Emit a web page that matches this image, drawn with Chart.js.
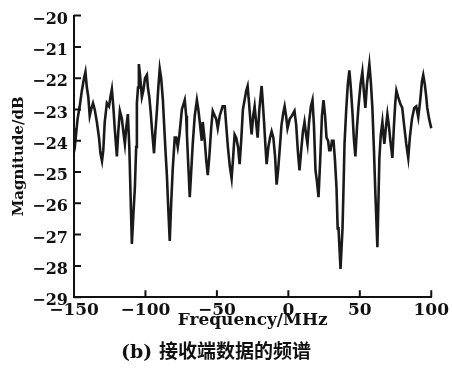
<!DOCTYPE html>
<html>
<head>
<meta charset="utf-8">
<script src="https://cdn.jsdelivr.net/npm/chart.js@4"></script>
<style>
  html, body { margin: 0; padding: 0; background: #fff; }
  #wrap { width: 452px; height: 368px; }
</style>
</head>
<body>
<div id="wrap"><canvas id="myChart" width="452" height="368"></canvas></div>
<script>
const ctx = document.getElementById('myChart')

const freqs = [
  -150, -149, -147.5, -146, -144.5, -143, -142, -141, -140, -139, -138, -136.7, -135.5, -134, -132.5,
  -131.5, -130.4, -129.5, -128.5, -127, -125.5, -124.5, -123.5, -122.5, -121.5, -120, -119, -117.9,
  -116.5, -115.5, -114.4, -113.5, -112.3, -111.3, -110.5, -109.5, -108.5, -107.4, -106.5, -106, -105.2,
  -104.6, -103.8, -102.5, -101.5, -100.3, -99, -98.3, -97.3, -96.3, -95.5, -94, -93.2, -92, -91, -90,
  -89, -87.8, -86.8, -86, -85, -84, -83, -82, -80.9, -79.5, -78.5, -77.4, -76.2, -74.5, -72.5, -71.5,
  -71, -70, -69, -68, -66.9, -65.5, -64, -63, -62, -60.6, -59.9, -58.5, -57.5, -56.4, -55.3, -54, -52.9,
  -51.5, -50.5, -49.4, -48, -46, -44.5, -43.5, -42.3, -41, -39.7, -38.6, -37.6, -36.5, -35.2, -34.1, -33,
  -31.8, -30.6, -29.5, -28.5, -27.5, -26.5, -25.7, -24.6, -23.6, -22.6, -21.5, -20.3, -18.7, -18, -17,
  -16, -15.2, -14, -12.8, -11.7, -10.5, -9.3, -8.2, -7.1, -6.1, -4.8, -3.5, -2.6, -1.6, -0.6, 1, 2.5,
  4.3, 5.5, 6.6, 7.8, 9, 10.2, 11.3, 12.4, 13.4, 14.5, 15.8, 16.9, 17.9, 19, 20, 21.1, 22.3, 23.5, 24.6,
  25.7, 26.7, 27.8, 28.6, 29.5, 30.5, 31.6, 32.6, 33.7, 34.5, 35.1, 36.5, 37.9, 38.6, 39.3, 40.5, 41.6,
  42.7, 43.7, 44.8, 45.8, 46.9, 48, 49, 50.5, 51.8, 52.8, 53.9, 55, 56.7, 57.7, 58.8, 59.9, 60.9, 62.3,
  63, 63.7, 64.7, 65.8, 66.5, 67.2, 68.2, 69.3, 70.3, 71.4, 72.8, 73.8, 74.8, 75.6, 76.8, 78.2, 79.7,
  81, 82.5, 83.9, 85, 86.5, 88.1, 89.5, 90.9, 92.3, 93.5, 94.4, 95.5, 96.5, 97.2, 98.5, 100, 101.4, 102
]
const mags = [
  -23.6, -24.0, -23.3, -22.9, -22.4, -22.0, -21.8, -22.3, -22.6, -23.2, -23.0, -22.8, -23.0, -23.4, -23.9,
  -24.4, -24.65, -24.3, -23.4, -22.8, -22.9, -22.6, -22.35, -22.9, -23.6, -24.5, -23.7, -23.05,
  -23.3, -23.7, -24.1, -23.6, -23.15, -24.2, -25.6, -27.3, -26.4, -25.5, -24.2, -22.8, -22.3,
  -21.55, -21.9, -22.6, -22.4, -22.0, -21.9, -22.3, -22.6, -23.1, -23.6, -24.4, -23.8, -23.05, -22.3, -21.7,
  -22.0, -22.7, -23.6, -24.3, -25.1, -26.2, -27.2, -26.0, -24.9, -23.9, -23.9, -24.2, -23.8, -23.0, -22.7, -23.2,
  -23.8, -24.8, -25.8, -25.0, -24.1, -23.2, -22.7, -23.0, -23.4, -24.0, -23.4, -24.0, -24.6, -25.1, -24.5, -23.6, -23.05,
  -23.2, -23.3, -23.6, -23.2, -22.9, -22.9, -23.5, -24.2, -24.8, -25.2, -24.5, -23.8, -23.9, -24.2, -24.75, -24.0,
  -23.0, -22.7, -22.4, -22.25, -22.8, -23.4, -23.8, -23.2, -22.9, -23.4, -23.9, -23.0, -22.25, -22.7, -23.4,
  -24.2, -24.75, -24.2, -23.9, -23.7, -23.9, -24.5, -25.4, -24.9, -24.3, -23.5, -23.1, -22.9, -23.2, -23.6, -23.3, -23.2,
  -23.05, -23.5, -24.3, -24.95, -24.3, -23.7, -23.4, -23.8, -24.1, -23.4, -22.9, -22.7, -23.5, -24.95, -25.3, -25.8, -24.6, -23.2, -22.7,
  -23.2, -23.9, -24.0, -24.3, -24.3, -24.0, -24.0, -24.6, -25.5, -26.8, -26.8, -28.1, -26.8, -25.5, -24.1, -23.0, -22.2,
  -21.75, -22.3, -23.05, -23.9, -24.5, -23.6, -22.95, -22.2, -21.8, -22.4, -22.95, -22.2, -21.55, -22.1, -22.95, -24.3, -25.7, -27.4,
  -26.0, -24.55, -23.8, -23.4, -23.8, -24.1, -23.6, -23.15, -23.5, -24.0, -24.55, -23.6, -22.8, -22.4, -22.6, -22.8, -22.95,
  -23.5, -24.1, -24.55, -23.9, -23.3, -22.95, -22.9, -23.25, -22.7, -22.1, -21.9, -22.2, -22.6, -22.95, -23.3, -23.6, -24.0, -23.8
]

const yTicks = [-29, -28, -27, -26, -25, -24, -23, -22, -21, -20]
const xTicks = [-150, -100, -50, 0, 50, 100]

const serif = "'DejaVu Serif', 'Liberation Serif', serif"
const minus = v => (v < 0 ? '\u2212' + Math.abs(v) : '' + v)

// short ticks pointing into the plot
const innerTicks = {
  id: 'innerTicks',
  afterDraw(chart) {
    const c = chart.ctx
    const xs = chart.scales.x
    const ys = chart.scales.y
    const area = chart.chartArea
    c.save()
    c.strokeStyle = '#111'
    c.lineWidth = 2
    c.beginPath()
    yTicks.forEach(v => {
      const p = ys.getPixelForValue(v)
      c.moveTo(area.left, p)
      c.lineTo(area.left + 7, p)
    })
    xTicks.forEach(v => {
      const p = xs.getPixelForValue(v)
      c.moveTo(p, area.bottom)
      c.lineTo(p, area.bottom - 7)
    })
    c.stroke()
    c.restore()
  }
}

const myChart = new Chart(ctx, {
    type: 'line',
    data: {
        datasets: [{
            data: freqs.map((f, i) => ({ x: f, y: mags[i] })),
            borderColor: '#1a1a1a',
            borderWidth: 2.6,
            pointRadius: 0,
            tension: 0,
            fill: false,
            clip: { left: 0, top: 5, right: 8, bottom: 0 }
        }]
    },
    options: {
        responsive: false,
        animation: false,
        layout: { padding: { top: 15, right: 20, left: 0, bottom: 0 } },
        plugins: {
            legend: { display: false },
            tooltip: { enabled: false },
            title: {
                display: true,
                position: 'bottom',
                text: '(b) 接收端数据的频谱',
                color: '#111',
                font: { family: serif + ", 'Noto Sans CJK SC'", size: 19, weight: 'bold', lineHeight: 1.2 },
                padding: { top: 0, bottom: 4 }
            }
        },
        scales: {
            x: {
                type: 'linear',
                min: -150,
                max: 100,
                afterBuildTicks: s => { s.ticks = xTicks.map(v => ({ value: v })) },
                afterFit: s => { s.height = 44 },
                grid: { display: false, drawTicks: false },
                border: { display: true, color: '#111', width: 2 },
                ticks: {
                    color: '#111',
                    padding: 3,
                    maxRotation: 0,
                    font: { family: serif, size: 17, weight: 'bold' },
                    callback: minus
                },
                title: {
                    display: true,
                    text: 'Frequency/MHz',
                    color: '#111',
                    font: { family: serif, size: 17, weight: 'bold', lineHeight: 1.2 },
                    padding: { top: 0, bottom: 10 }
                }
            },
            y: {
                min: -29,
                max: -20,
                afterBuildTicks: s => { s.ticks = yTicks.map(v => ({ value: v })) },
                afterFit: s => { s.width = 74 },
                grid: { display: false, drawTicks: false },
                border: { display: true, color: '#111', width: 2 },
                ticks: {
                    color: '#111',
                    padding: 6,
                    labelOffset: 4,
                    font: { family: serif, size: 16, weight: 'bold' },
                    callback: minus
                },
                title: {
                    display: true,
                    text: 'Magnitude/dB',
                    color: '#111',
                    font: { family: serif, size: 15, weight: 'bold', lineHeight: 1.2 },
                    padding: { top: 10, bottom: 0 }
                }
            }
        }
    },
    plugins: [innerTicks]
})
</script>
</body>
</html>
